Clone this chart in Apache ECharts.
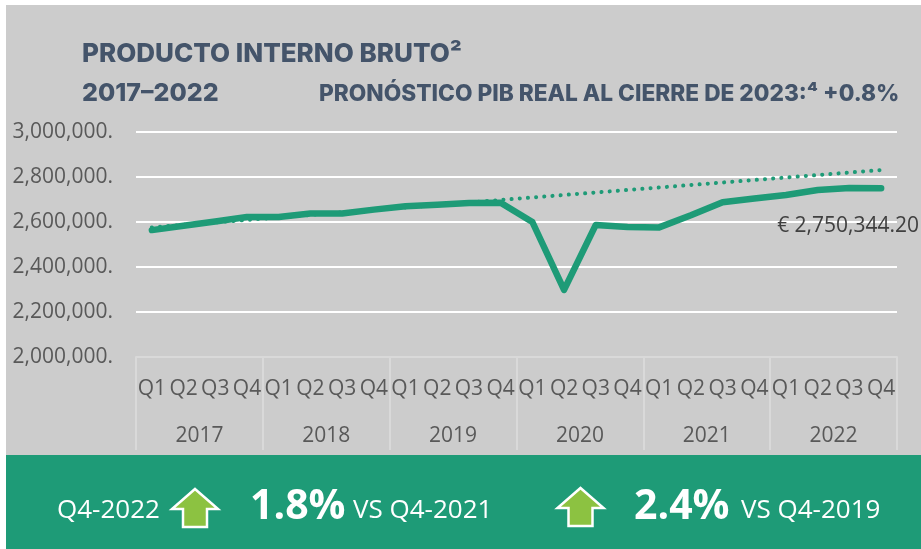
<!DOCTYPE html>
<html>
<head>
<meta charset="utf-8">
<style>html,body{margin:0;padding:0;background:#fff}#c{width:921px;height:549px}</style>
<script src="https://cdn.jsdelivr.net/npm/echarts@6/dist/echarts.min.js"></script>
</head>
<body>
<div id="c"></div>
<script>
const quarters = ["Q1","Q2","Q3","Q4","Q1","Q2","Q3","Q4","Q1","Q2","Q3","Q4","Q1","Q2","Q3","Q4","Q1","Q2","Q3","Q4","Q1","Q2","Q3","Q4"];
const years = ["2017","2018","2019","2020","2021","2022"];
const gdp = [2564000,2583000,2602000,2622000,2622000,2638000,2638000,2655000,2670000,2677000,2684000,2686000,2600000,2298000,2587000,2578000,2576000,2630000,2688000,2704000,2720000,2742000,2751000,2750344.2];
const trend = [2576000,null,null,null,null,null,null,null,null,null,null,null,null,null,null,null,null,null,null,null,null,null,null,2831000];
const yMin = 2000000, yMax = 3000000, yStep = 200000;

const axisFont = "'Open Sans', sans-serif";
const titleFont = "Inter, sans-serif";
const navy = "#44546A", green = "#1E9B77", grey = "#595959";

function arrow(cx, top) {
  return {
    type: "polygon", z: 5,
    shape: { points: [[cx, top],[cx+23, top+20],[cx+12, top+20],[cx+12, top+38],[cx-12, top+38],[cx-12, top+20],[cx-23, top+20]] },
    style: { fill: "#8CC241", stroke: "#fff", lineWidth: 2.5 }
  };
}
function txt(x, y, text, size, weight, fill, font) {
  return { type: "text", z: 6, x, y, style: { text, fontSize: size, fontWeight: weight, fill, fontFamily: font, textVerticalAlign: "middle", verticalAlign: "middle" } };
}

const chart = echarts.init(document.getElementById("c"));
chart.setOption({
  animation: false,
  backgroundColor: "#fff",
  grid: { left: 136, right: 24, top: 132, height: 225, containLabel: false },
  xAxis: [
    { type: "category", data: quarters, position: "bottom", boundaryGap: true,
      axisLine: { show: false }, axisTick: { show: false },
      axisLabel: { interval: 0, margin: 22, fontSize: 21, color: grey, fontFamily: axisFont, hideOverlap: false } },
    { type: "category", data: years, position: "bottom", boundaryGap: true,
      axisLine: { show: true, lineStyle: { color: "#D9D9D9", width: 2 } },
      axisTick: { show: true, length: 93, lineStyle: { color: "#D9D9D9", width: 2 } },
      axisLabel: { interval: 0, margin: 69, fontSize: 21, color: grey, fontFamily: axisFont } }
  ],
  yAxis: {
    type: "value", min: yMin, max: yMax, interval: yStep,
    axisLine: { show: false }, axisTick: { show: false },
    splitLine: { show: true, lineStyle: { color: "#fff", width: 2 } },
    axisLabel: { margin: 23, fontSize: 21, color: grey, fontFamily: axisFont, padding: [3, 0, 0, 0],
      formatter: v => v.toLocaleString("en-US") + "." }
  },
  series: [
    { type: "line", data: trend, connectNulls: true, symbol: "none", z: 2,
      lineStyle: { color: green, width: 4, type: [0.1, 8.1], cap: "round" } },
    { type: "line", data: gdp, symbol: "none", z: 3, smooth: false,
      lineStyle: { color: green, width: 6.5, cap: "round", join: "round" },
      endLabel: { show: true, align: "left", verticalAlign: "middle", offset: [-112, 38],
        fontSize: 21, color: "#404040", fontFamily: axisFont,
        formatter: p => "€ " + p.value.toLocaleString("en-US", { minimumFractionDigits: 2, maximumFractionDigits: 2 }) } }
  ],
  graphic: [
    { type: "rect", z: -10, shape: { x: 6, y: 5, width: 915, height: 450 }, style: { fill: "#CCCCCC" } },
    { type: "rect", z: -10, shape: { x: 6, y: 455, width: 915, height: 94 }, style: { fill: green } },
    txt(82, 54, "PRODUCTO INTERNO BRUTO²", 26, 800, navy, titleFont),
    txt(82, 93, "2017–2022", 25, 800, navy, titleFont),
    txt(319, 94, "PRONÓSTICO PIB REAL AL CIERRE DE 2023:⁴ +0.8%", 22.7, 800, navy, titleFont),
    txt(57, 511, "Q4-2022", 26, 400, "#fff", axisFont),
    arrow(195, 489),
    txt(250, 507, "1.8%", 41, 700, "#fff", axisFont),
    txt(353, 511, "VS Q4-2021", 26, 400, "#fff", axisFont),
    arrow(580.5, 488),
    txt(634, 507, "2.4%", 41, 700, "#fff", axisFont),
    txt(741, 511, "VS Q4-2019", 26, 400, "#fff", axisFont)
  ]
});
</script>
</body>
</html>
